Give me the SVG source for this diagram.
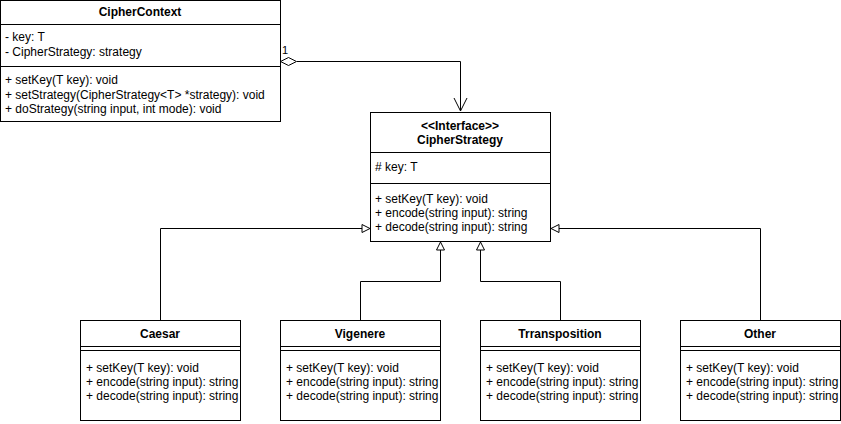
<svg xmlns="http://www.w3.org/2000/svg" width="841" height="424" viewBox="0 0 841 424">
<style>
  text { font-family: "Liberation Sans", Arial, Helvetica, sans-serif; font-size: 12px; fill: #000; }
  .b { font-weight: bold; text-anchor: middle; }
  .box { fill: #fff; stroke: #000; stroke-width: 1; }
  .ln { stroke: #000; stroke-width: 1; fill: none; }
  .conn { stroke: #000; stroke-width: 1; fill: none; }
  .tri { stroke: #000; stroke-width: 1; fill: #fff; }
</style>
<defs>
  <clipPath id="c1"><rect x="80" y="320" width="159" height="101"/></clipPath>
  <clipPath id="c2"><rect x="280" y="320" width="159" height="101"/></clipPath>
  <clipPath id="c3"><rect x="480" y="320" width="159" height="101"/></clipPath>
  <clipPath id="c4"><rect x="680" y="320" width="159" height="101"/></clipPath>
</defs>
<rect width="841" height="424" fill="#fff"/>

<g id="connectors">
  <polyline class="conn" points="297,61.5 460.5,61.5 460.5,111"/>
  <polyline class="conn" points="454,98 460.5,111 467,98"/>
  <polygon class="tri" points="280.5,61.5 288.5,57.5 296.5,61.5 288.5,65.5"/>
  <text x="282" y="54" style="font-size:11px">1</text>
  <polyline class="conn" points="160.5,320 160.5,228.5 362,228.5"/>
  <polygon class="tri" points="362,224.5 370,228.5 362,232.5"/>
  <polyline class="conn" points="360.5,320 360.5,281.5 440.5,281.5 440.5,250"/>
  <polygon class="tri" points="436.5,250 440.5,242 444.5,250"/>
  <polyline class="conn" points="560.5,320 560.5,281.5 480.5,281.5 480.5,250"/>
  <polygon class="tri" points="476.5,250 480.5,242 484.5,250"/>
  <polyline class="conn" points="760.5,320 760.5,228.5 559,228.5"/>
  <polygon class="tri" points="559,224.5 551,228.5 559,232.5"/>
</g>

<g id="CipherContext">
  <rect class="box" x="0.5" y="0.5" width="280" height="121"/>
  <line class="ln" x1="0.5" y1="24.5" x2="280.5" y2="24.5" stroke="#999"/>
  <line class="ln" x1="0.5" y1="66.5" x2="280.5" y2="66.5" stroke="#999"/>
  <text class="b" x="140" y="16">CipherContext</text>
  <text x="5" y="41">- key: T</text>
  <text x="5" y="56">- CipherStrategy: strategy</text>
  <text x="5" y="84">+ setKey(T key): void</text>
  <text x="5" y="99">+ setStrategy(CipherStrategy&lt;T&gt; *strategy): void</text>
  <text x="5" y="113">+ doStrategy(string input, int mode): void</text>
</g>

<g id="CipherStrategy">
  <rect class="box" x="370.5" y="112.5" width="180" height="129"/>
  <line class="ln" x1="370.5" y1="152.5" x2="550.5" y2="152.5"/>
  <line class="ln" x1="370.5" y1="183.5" x2="550.5" y2="183.5"/>
  <text class="b" x="460" y="130">&lt;&lt;Interface&gt;&gt;</text>
  <text class="b" x="460" y="144">CipherStrategy</text>
  <text x="375" y="171"># key: T</text>
  <text x="375" y="203">+ setKey(T key): void</text>
  <text x="375" y="217">+ encode(string input): string</text>
  <text x="375" y="231">+ decode(string input): string</text>
</g>

<g id="Caesar">
  <rect class="box" x="80.5" y="320.5" width="160" height="100"/>
  <line class="ln" x1="80.5" y1="346.5" x2="240.5" y2="346.5"/>
  <line class="ln" x1="80.5" y1="350.5" x2="240.5" y2="350.5"/>
  <text class="b" x="160" y="338">Caesar</text>
  <g clip-path="url(#c1)">
    <text x="86" y="372">+ setKey(T key): void</text>
    <text x="86" y="386">+ encode(string input): string</text>
    <text x="86" y="400">+ decode(string input): string</text>
  </g>
</g>

<g id="Vigenere">
  <rect class="box" x="280.5" y="320.5" width="160" height="100"/>
  <line class="ln" x1="280.5" y1="346.5" x2="440.5" y2="346.5"/>
  <line class="ln" x1="280.5" y1="350.5" x2="440.5" y2="350.5"/>
  <text class="b" x="360" y="338">Vigenere</text>
  <g clip-path="url(#c2)">
    <text x="286" y="372">+ setKey(T key): void</text>
    <text x="286" y="386">+ encode(string input): string</text>
    <text x="286" y="400">+ decode(string input): string</text>
  </g>
</g>

<g id="Trransposition">
  <rect class="box" x="480.5" y="320.5" width="160" height="100"/>
  <line class="ln" x1="480.5" y1="346.5" x2="640.5" y2="346.5"/>
  <line class="ln" x1="480.5" y1="350.5" x2="640.5" y2="350.5"/>
  <text class="b" x="560" y="338">Trransposition</text>
  <g clip-path="url(#c3)">
    <text x="486" y="372">+ setKey(T key): void</text>
    <text x="486" y="386">+ encode(string input): string</text>
    <text x="486" y="400">+ decode(string input): string</text>
  </g>
</g>

<g id="Other">
  <rect class="box" x="680.5" y="320.5" width="160" height="100"/>
  <line class="ln" x1="680.5" y1="346.5" x2="840.5" y2="346.5"/>
  <line class="ln" x1="680.5" y1="350.5" x2="840.5" y2="350.5"/>
  <text class="b" x="760" y="338">Other</text>
  <g clip-path="url(#c4)">
    <text x="686" y="372">+ setKey(T key): void</text>
    <text x="686" y="386">+ encode(string input): string</text>
    <text x="686" y="400">+ decode(string input): string</text>
  </g>
</g>
</svg>
